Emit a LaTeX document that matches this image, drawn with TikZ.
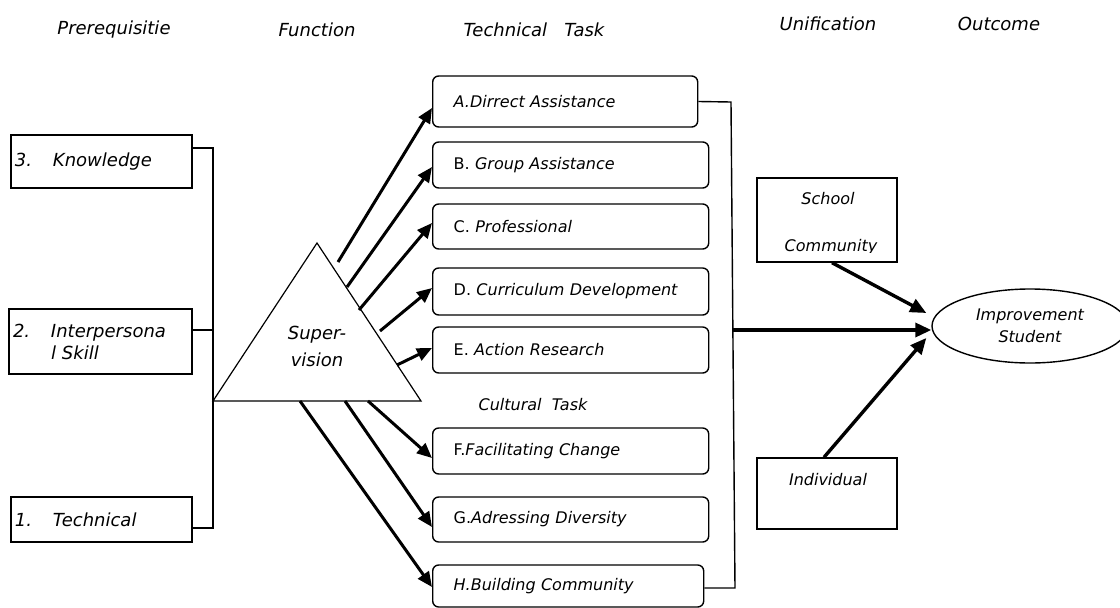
\documentclass[tikz,border=0pt]{standalone}
\usepackage{fontspec}
\setmainfont{DejaVu Sans}
\usetikzlibrary{calc}
\usetikzlibrary{arrows.meta}
\usetikzlibrary{shapes.geometric}
\newcommand*{\bigtxt}{\fontsize{18}{22}\selectfont\itshape}
\newcommand*{\smltxt}{\fontsize{16}{22}\selectfont}
\newcommand*{\tskw  }{276}
\newcommand*{\tskh  }{46}
\newcommand*{\numw  }{38pt}

\begin{document}
\begin{tikzpicture}[x=1pt, y=-1pt, line width=1.4pt,
        pbox/.style   = {draw, rectangle, minimum width=181, inner xsep=4pt, text width=173pt, align=left, font=\bigtxt},
        tbox/.style   = {draw, rectangle, rounded corners=6pt, anchor=west, inner xsep=21pt, text width=\tskw pt-42pt, minimum height=\tskh, align=left, font=\smltxt},
        ubox/.style   = {draw, rectangle, minimum width=140, inner sep=0pt},
        head/.style   = {font=\bigtxt},
        arr/.style    = {line width=3pt, -{Triangle[length=15pt, width=13pt]}},
        bigarr/.style = {line width=3.4pt, -{Triangle[length=16pt, width=14pt]}}]
    \useasboundingbox (0,0) rectangle (1120,608);
        % headings
        \node [head] (hpre) at ( 114, 30) {Prerequisitie};
        \node [head] (hfun) at ( 317, 30) {Function};
        \node [head] (htec) at ( 534, 30) {Technical\ \ \ Task};
        \node [head] (huni) at ( 828, 24) {Unification};
        \node [head] (hout) at ( 999, 24) {Outcome};
        % prerequisites
        \node [pbox, minimum height=53] (know)  at (101.5,161.5) {\makebox[\numw][l]{3.}Knowledge};
        \node [pbox, minimum height=65, minimum width=183, text width=175pt] (inter) at (100.5,341.5) {\makebox[\numw][l]{2.}Interpersona\\\hspace*{\numw}l Skill};
        \node [pbox, minimum height=45] (tech)  at (101.5,519.5) {\makebox[\numw][l]{1.}Technical};
        \coordinate (bK) at (213,148);
        \coordinate (bI) at (213,330);
        \coordinate (bT) at (213,528);
        \draw (know.east |- bK) -- (bK) -- (bT) -- (tech.east |- bT);
        \draw (inter.east |- bI) -- (bI);
        % function
        \coordinate (sl) at (213,401);
        \coordinate (st) at (317,243);
        \coordinate (sr) at (421,401);
        \draw [line width=1.2pt] (sl) -- (st) -- (sr) -- cycle;
        \node [font=\bigtxt, align=center, text depth=0pt] (sup) at (317,346) {Super-\\[5pt]vision};
        % technical and cultural tasks
        \node [tbox, minimum width=265, text width=223pt, minimum height=51] (A) at (432,101.5) {\itshape A.Dirrect Assistance};
        \node [tbox, minimum width=\tskw] (B) at (432,165.0) {B. \textit{Group Assistance}};
        \node [tbox, minimum width=\tskw, minimum height=45] (C) at (432,226.5) {C. \textit{Professional}};
        \node [tbox, minimum width=\tskw, minimum height=47] (D) at (432,291.5) {D. \textit{Curriculum Development}};
        \node [tbox, minimum width=\tskw] (E) at (432,350.0) {E. \textit{Action Research}};
        \node [font=\smltxt\itshape] (cult) at (533,405) {Cultural\ \ Task};
        \node [tbox, minimum width=\tskw] (F) at (432,451.0) {F.\textit{Facilitating Change}};
        \node [tbox, minimum width=\tskw, minimum height=45] (G) at (432,519.5) {G.\textit{Adressing Diversity}};
        \node [tbox, minimum width=271, text width=229pt, minimum height=42] (H) at (432,586.0) {\itshape H.Building Community};
        \coordinate (s1) at (338,262);
        \coordinate (s2) at (347,287);
        \coordinate (s3) at (359,310);
        \coordinate (s4) at (380,331);
        \coordinate (s5) at (397,365);
        \coordinate (s6) at (368,401);
        \coordinate (s7) at (345,401);
        \coordinate (s8) at (300,401);
        \draw [arr] (s1) -- ([yshift=-6.5pt]A.west);
        \draw [arr] (s2) -- ([yshift=-2pt]B.west);
        \draw [arr] (s3) -- ([yshift=3.5pt]C.west);
        \draw [arr] (s4) -- ([yshift=3.5pt]D.west);
        \draw [arr] (s5) -- ([yshift=2pt]E.west);
        \draw [arr] (s6) -- ([yshift=-7pt]F.west);
        \draw [arr] (s7) -- ([yshift=-7.5pt]G.west);
        \draw [arr] (s8) -- ([yshift=-1pt]H.west);
        % unification
        \coordinate (uA) at (731,102);
        \coordinate (uH) at (735,588);
        \coordinate (uM) at (733,330);
        \draw (A.east) -- (uA) -- (uH) -- (H.east |- uH);
        \node [ubox, minimum height=84] (school) at (827,220.0) {};
        \node [font=\smltxt\itshape] (tschool) at (828,199) {School};
        \begin{scope}
            \clip (757,178) rectangle (897,252);
            \node [font=\smltxt\itshape] (tcomm) at (831,247) {Community};
        \end{scope}
        \node [ubox, minimum height=71] (indiv) at (827,493.5) {};
        \node [font=\smltxt\itshape] (tindiv) at (828,480) {Individual};
        % outcome
        \node [draw, ellipse, minimum width=196, minimum height=74, inner sep=0pt, align=center, font=\smltxt\itshape] (out) at (1030,326) {Improvement\\Student};
        \draw [bigarr] (uM) -- (uM -| out.west);
        \draw [bigarr] ([xshift=5pt]school.south) -- ([shift={(-5,-13)}]out.west);
        \draw [bigarr] ([xshift=-3pt]indiv.north) -- ([shift={(-5,12)}]out.west);
        %\draw [fill=gray!20, draw=none] (sl) -- (st) -- (sr) -- cycle;
    \end{tikzpicture}
\end{document}
